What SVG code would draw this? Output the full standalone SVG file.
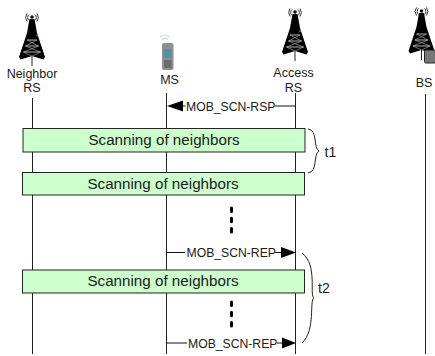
<svg xmlns="http://www.w3.org/2000/svg" width="435" height="356" viewBox="0 0 435 356">
<style>
text{font-family:"Liberation Sans",Arial,sans-serif;fill:#1a1a1a}
.l{font-size:12.5px;text-anchor:middle}
.m{font-size:12.2px}
.s{font-size:15.2px;text-anchor:middle}
.t{font-size:14px}
.life{stroke:#222;stroke-width:1;fill:none}
.msg{stroke:#111;stroke-width:1;fill:none}
.head{fill:#000;stroke:none}
.box{fill:#ccffcc;stroke:#222;stroke-width:1}
.brace{fill:none;stroke:#222;stroke-width:1}
.dot{stroke:#000;stroke-width:3;stroke-linecap:round;stroke-dasharray:3.500 6.800;fill:none}
</style>
<defs>
<g id="tower">
<path d="M-2.500 6H2.500L5 20L13 44L11.500 46.500L0 43L-11.500 46.500L-13 44L-5 20Z" fill="#000" stroke="none"/>
<path d="M-5 27H5M-6.500 33H6.500M-8.500 39H8.500" stroke="#fff" stroke-width=".7" fill="none"/>
<path d="M-5 27L6.500 33M5 27L-6.500 33M-6.500 33L8.500 39M6.500 33L-8.500 39M-8.500 39L0 43M8.500 39L0 43" stroke="#bbb" stroke-width=".6" fill="none"/>
<path d="M0 43V53" stroke="#222" stroke-width="1"/>
<path d="M-3 1.500a4 4 0 0 0 0 6M3 1.500a4 4 0 0 1 0 6M-5 .5a7 7 0 0 0 0 8M5 .5a7 7 0 0 1 0 8" stroke="#333" stroke-width="1" fill="none"/>
<circle cy="4" r="1.800" fill="#111"/>
</g>
</defs>
<g id="connectors">
<path class="life" d="M32.500 98V354M166.500 93V354M295.500 93V354M425.500 94V354"/>
<path class="msg" d="M182 106H185.500M275 106H295.500M166.500 252.500H185M275 252.500H282M166.500 343H187M277 343H283"/>
<path class="head" d="M167 106L183 100.500V111.500ZM296 252.500L281 247V258ZM296 343L282 337.500V348.500Z"/>
</g>
<g id="node-neighbor-rs"><use href="#tower" x="32" y="13"/><circle cx="37" cy="35.500" r="1" fill="#2a8a4a"/><text class="l" x="32" y="78">Neighbor</text><text class="l" x="32" y="92">RS</text></g>
<g id="node-ms">
<path d="M160 37a8 8 0 0 1 10 0M162 39.500a5 5 0 0 1 6 0" stroke="#b8dde4" stroke-width="1.200" fill="none"/>
<rect x="162" y="43" width="11.500" height="27" rx="2" fill="#8f8f8f"/><rect x="163.500" y="49" width="8" height="9" fill="#4f8fa8"/><rect x="164" y="60" width="7.500" height="8" fill="#6b6b6b"/>
<text class="l" x="169.500" y="84">MS</text></g>
<g id="node-access-rs"><use href="#tower" x="295" y="8"/><circle cx="300" cy="31" r="1" fill="#2a8a4a"/><text class="l" x="293.500" y="77">Access</text><text class="l" x="293.500" y="92">RS</text></g>
<g id="node-bs"><use href="#tower" x="421.500" y="7"/><rect x="424.500" y="50" width="11" height="13" rx="1.500" fill="#777" stroke="#222"/><text class="l" x="424" y="87">BS</text></g>
<g id="box-1"><rect class="box" x="23" y="128.500" width="282" height="23.500"/><text class="s" x="164" y="144.500">Scanning of neighbors</text></g>
<g id="box-2"><rect class="box" x="22.500" y="172.500" width="282" height="22.500"/><text class="s" x="163" y="188.500">Scanning of neighbors</text></g>
<g id="box-3"><rect class="box" x="22.500" y="270" width="282" height="23"/><text class="s" x="163" y="286">Scanning of neighbors</text></g>
<g id="messages">
<text class="m" x="186" y="110.500">MOB_SCN-RSP</text>
<text class="m" x="186.500" y="256.500">MOB_SCN-REP</text>
<text class="m" x="188" y="347.500">MOB_SCN-REP</text>
</g>
<g id="ellipsis"><path class="dot" d="M231.500 208V232M231.500 302V327"/></g>
<g id="brace-t1"><path class="brace" d="M308 129C318 130 313 148 319 151C313 154 318 172 308 173"/><text class="t" x="324.500" y="157">t1</text></g>
<g id="brace-t2"><path class="brace" d="M302 253C318 265 309 296 314 298C309 300 316 330 302 343"/><text class="t" x="318" y="293">t2</text></g>
</svg>
